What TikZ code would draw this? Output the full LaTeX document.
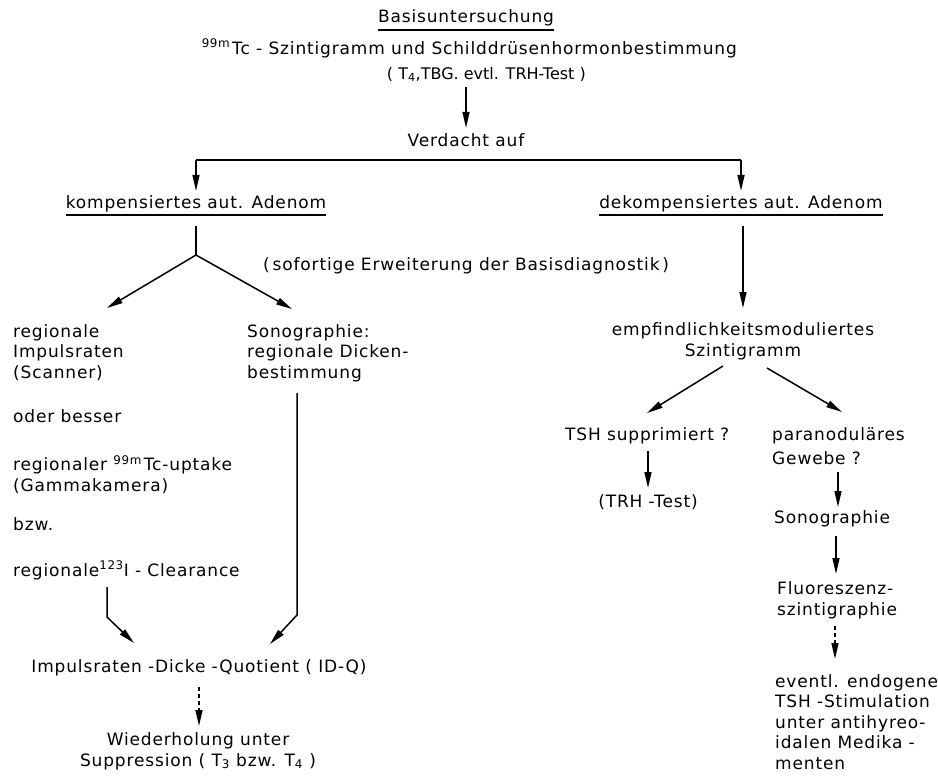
\documentclass[tikz,border=0pt]{standalone}
\usepackage{fontspec}
\setmainfont{DejaVu Sans}[LetterSpace=5]
\usetikzlibrary{arrows.meta}
\begin{document}
\begin{tikzpicture}[x=1pt,y=-1pt,
  every node/.style={inner sep=0pt, font=\fontsize{17}{20.5}\selectfont},
  lw/.style={anchor=base west, align=left},
  lc/.style={anchor=base, align=center},
  ln/.style={line width=1.5pt},
  conn/.style={line width=1.5pt, -{Triangle[width=7pt,length=16pt]}},
  dconn/.style={conn, dash pattern=on 4pt off 3pt},
  uline/.style={line width=1.3pt}]
\useasboundingbox (0,0) rectangle (938,777);
\fill[white] (0,0) rectangle (938,777);

% top
\node[lc] (basis) at (466,22) {Basisuntersuchung};
\draw[uline] ([yshift=-8pt]basis.base west) -- ([yshift=-8pt]basis.base east);
\node[anchor=base east] (szint) at (737,54) {\textsuperscript{99m\,}Tc - Szintigramm und Schilddrüsenhormonbestimmung};
\node[anchor=base east, font=\fontsize{16}{19}\selectfont\addfontfeatures{LetterSpace=0}] (t4) at (586,79) {( T\textsubscript{4},TBG. evtl. TRH-Test )};
\coordinate (a1s) at (466,87);
\node[lc] (verd) at (466,146) {Verdacht auf};
\draw[conn] (a1s) -- ([yshift=5pt]verd.north);

\coordinate (hl) at (196,160);
\coordinate (hr) at (741,160);
\node[lc] (komp) at (196,208) {kompensiertes aut. Adenom};
\node[lc] (dekomp) at (741,208) {dekompensiertes aut. Adenom};
\draw[uline] ([yshift=-7pt]komp.base west) -- ([yshift=-7pt]komp.base east);
\draw[uline] ([yshift=-7pt]dekomp.base west) -- ([yshift=-7pt]dekomp.base east);
\draw[ln] (hl) -- (hr);
\draw[conn] (hl) -- ([yshift=4pt]komp.north);
\draw[conn] (hr) -- ([yshift=4pt]dekomp.north);

% left branch
\coordinate (j1) at (196,255);
\draw[ln] ([yshift=-18pt]komp.base) -- (j1);
\node[lw] (reg) at (13,378) {regionale\\Impulsraten\\(Scanner)};
\node[lw] (sonoL) at (247,378) {Sonographie:\\regionale Dicken-\\bestimmung};
\draw[conn] (j1) -- (107,308);
\draw[conn] (j1) -- (292,309);
\node[anchor=base west] (sofort) at (263,270) {(\,sofortige Erweiterung der Basisdiagnostik\,)};

\node[lw] (oder) at (13,422) {oder besser};
\node[lw] (uptake) at (13,491) {regionaler \textsuperscript{99m\,}Tc-uptake\\(Gammakamera)};
\node[lw] (bzw) at (13,530) {bzw.};
\node[lw] (clear) at (13,576) {regionale\textsuperscript{123}I - Clearance};

\node[lc] (idq) at (199,672) {Impulsraten -Dicke -Quotient ( ID-Q)};
\coordinate (c1) at (107,617);
\coordinate (c2) at (297,615);
\draw[conn] (107,587) -- (c1) -- (134,643);
\draw[conn] (297,393) -- (c2) -- (270,644);
\node[lc] (wied) at (198,766) {Wiederholung unter\\Suppression ( T\textsubscript{3} bzw. T\textsubscript{4} )};
\draw[dconn] (199,687) -- (199,726);

% right branch
\node[lc] (empf) at (743,356) {empfindlichkeitsmoduliertes\\Szintigramm};
\draw[conn] (743,226) -- (743,308);
\draw[conn] (723,366) -- (647,413);
\draw[conn] (767,368) -- (842,412);
\node[lw] (tsh) at (565,440) {TSH supprimiert ?};
\node[lc] (trh) at (648,507) {(TRH -Test)};
\draw[conn] (648,451) -- (648,488);
\node[lw, font=\fontsize{17}{24}\selectfont] (para) at (772,464) {paranoduläres\\Gewebe ?};
\draw[conn] (838,472) -- (838,507);
\node[lw] (sono2) at (774,523) {Sonographie};
\draw[conn] (836,536) -- (836,574);
\node[lw] (fluor) at (777,615) {Fluoreszenz-\\szintigraphie};
\draw[dconn] (835,626) -- (835,659);
\node[lw] (event) at (775,769) {eventl. endogene\\TSH -Stimulation\\unter antihyreo-\\idalen Medika -\\menten};
\end{tikzpicture}
\end{document}
